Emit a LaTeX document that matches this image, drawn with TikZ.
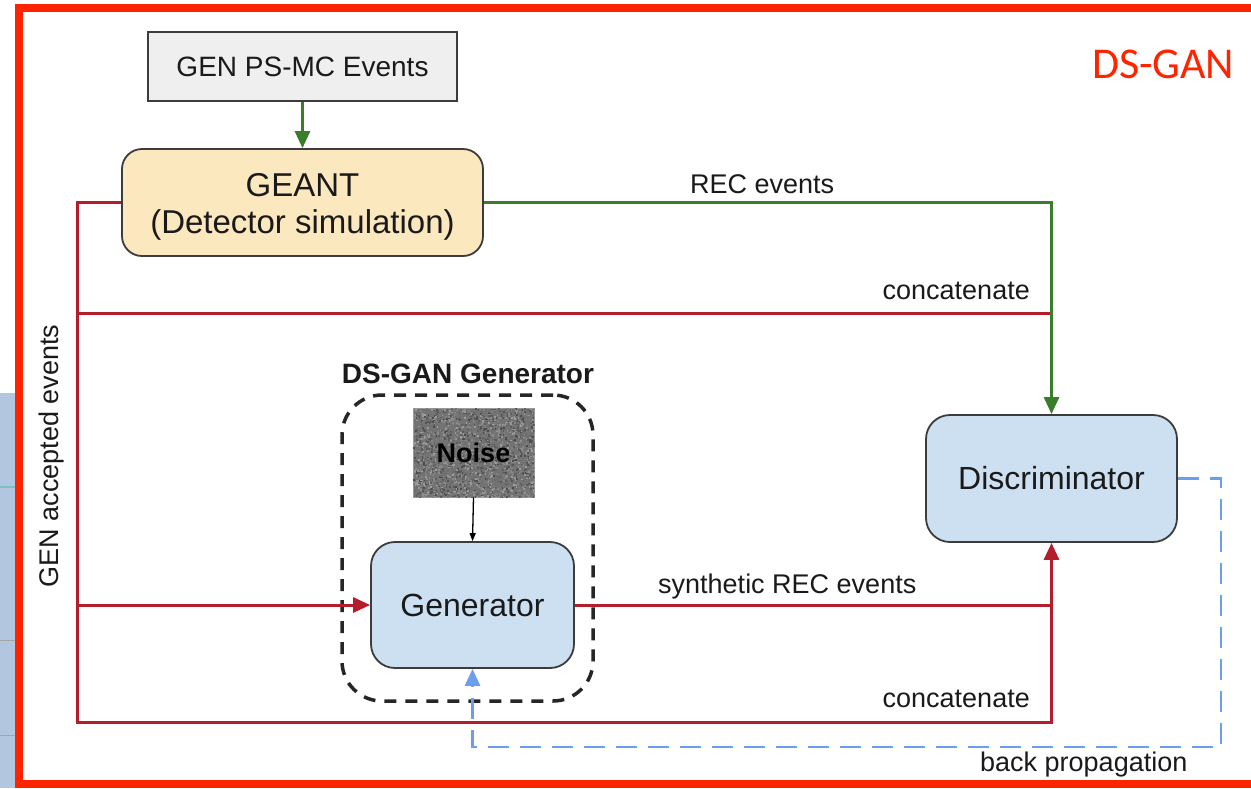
\documentclass[tikz,border=0pt]{standalone}
\usepackage{fontspec}
\setmainfont{Liberation Sans}
\newfontfamily\calibri{Carlito}
\usetikzlibrary{arrows.meta,calc}
\definecolor{framered}{HTML}{FF2400}
\definecolor{linered}{HTML}{B31D2C}
\definecolor{linegreen}{HTML}{3A7D2A}
\definecolor{lineblue}{HTML}{6D9EEB}
\definecolor{boxblue}{HTML}{CDE0F2}
\definecolor{boxyellow}{HTML}{FCE8BF}
\definecolor{boxgray}{HTML}{EFEFEF}
\definecolor{edgegray}{HTML}{3C3C3C}
\definecolor{txt}{HTML}{1A1A1A}
\definecolor{stripblue}{HTML}{B3C6DF}
\newcommand\fsz[2]{\fontsize{#1}{#2}\selectfont}
\begin{document}
\begin{tikzpicture}[x=1pt,y=-1pt,
  lbl/.style={font=\fsz{27}{32}, text=txt, inner sep=0pt},
  boxbase/.style={draw=edgegray, line width=1.8pt, text=txt, inner sep=0pt},
  genbox/.style={boxbase, fill=boxgray, minimum width=309pt, minimum height=69pt, font=\fsz{28}{33}},
  geantbox/.style={boxbase, fill=boxyellow, rounded corners=20pt, minimum width=361pt, minimum height=107pt},
  bluebox/.style={boxbase, fill=boxblue, rounded corners=24pt, font=\fsz{32}{38}},
  dashbox/.style={draw=black!85, line width=3.5pt, dash pattern=on 12pt off 9pt, rounded corners=40pt, minimum width=251pt, minimum height=306pt, inner sep=0pt},
  noisebox/.style={draw=black!40, line width=0.8pt, fill=black!55, minimum width=121pt, minimum height=89pt, inner sep=0pt},
  redline/.style={draw=linered, line width=3pt},
  greenline/.style={draw=linegreen, line width=2.8pt},
  blueline/.style={draw=lineblue, line width=2.8pt, dash pattern=on 21pt off 11pt},
  bigtip/.style={-{Triangle[length=17pt,width=15pt]}},
  smalltip/.style={-{Triangle[length=8pt,width=6pt]}}
]
\useasboundingbox (0,0) rectangle (1251,788);
\fill[white] (0,0) rectangle (1251,788);

% remnant strip of a neighbouring slide on the left
\fill[stripblue] (0,393) rectangle (15,788);
\draw[black!35, line width=1pt] (0,640) -- (15,640);
\draw[black!35, line width=1pt] (0,735) -- (15,735);
\draw[teal!50, line width=1.2pt] (0,487) -- (15,487);

% red frame
\draw[framered, line width=8pt] (19,8) rectangle (1275,784);
\node[font=\calibri\fsz{44}{50}, text=framered, anchor=base west, inner sep=0pt] (title) at (1092,78) {DS-GAN};

% nodes
\node[genbox] (gen) at (302.5,66.5) {GEN PS-MC Events};
\node[geantbox] (geant) at (302.5,202.5) {};
\node[align=center, font=\fsz{33}{37}, text=txt, inner sep=0pt] (geantlbl) at ($(geant.center)+(0,4)$) {GEANT\\(Detector simulation)};
\node[dashbox] (dsg) at (467.5,548) {};
\node[font=\bfseries\fsz{28}{32}, text=txt, anchor=base, inner sep=0pt] (dsglbl) at (468,383) {DS-GAN Generator};
\node[noisebox] (noise) at (473.5,452.5) {};
\begin{scope}
  \clip (noise.north west) rectangle (noise.south east);
  \pgfmathsetseed{4242}
  \foreach \i in {1,...,2200}{
    \pgfmathsetmacro\gx{413+121*rnd}
    \pgfmathsetmacro\gy{408+89*rnd}
    \pgfmathtruncatemacro\gv{38+34*rnd}
    \fill[black!\gv] (\gx,\gy) rectangle ++(1.8,1.8);
  }
\end{scope}
\node[font=\bfseries\fsz{27}{32}, text=black, inner sep=0pt] (noiselbl) at (noise.center) {Noise};
\node[bluebox, minimum width=203pt, minimum height=126pt] (gen2) at (472.5,605) {Generator};
\node[bluebox, minimum width=251pt, minimum height=127pt] (disc) at (1051.5,478.5) {Discriminator};

% coordinates
\coordinate (a1) at (77.5,202.5);
\coordinate (a2) at (77.5,313);
\coordinate (a3) at (77.5,605);
\coordinate (a4) at (77.5,722);
\coordinate (b2) at (1051.5,313);
\coordinate (b4) at (1051.5,722);
\coordinate (c1) at (1221,478.5);
\coordinate (c2) at (1221,747);
\coordinate (c3) at (472.5,747);

% connectors
\draw[greenline, bigtip] (gen.south) -- (geant.north);
\draw[redline] (a2) -- (b2);
\draw[greenline, bigtip] (geant.east) -- (geant.east -| disc.north) -- (disc.north);
\draw[redline, bigtip] (geant.west) -- (a1) -- (a4) -- (b4) -- (disc.south);
\draw[redline, bigtip] (a3) -- (gen2.west);
\draw[redline] (gen2.east) -- (gen2.east -| disc.south);
\draw[black, line width=1.3pt, smalltip] (noise.south) -- (gen2.north);
\draw[blueline, bigtip] (disc.east) -- (c1) -- (c2) -- (c3) -- (gen2.south);

% labels
\node[lbl, anchor=base west] (lrec) at (690,193) {REC events};
\node[lbl, anchor=base east] (lcat1) at (1030,299) {concatenate};
\node[lbl, anchor=base west] (lsyn) at (658,593) {synthetic REC events};
\node[lbl, anchor=base east] (lcat2) at (1030,707) {concatenate};
\node[lbl, anchor=base west] (lback) at (980,771) {back propagation};
\node[lbl, rotate=90] (lgen) at (52,456) {GEN accepted events};
\end{tikzpicture}
\end{document}
